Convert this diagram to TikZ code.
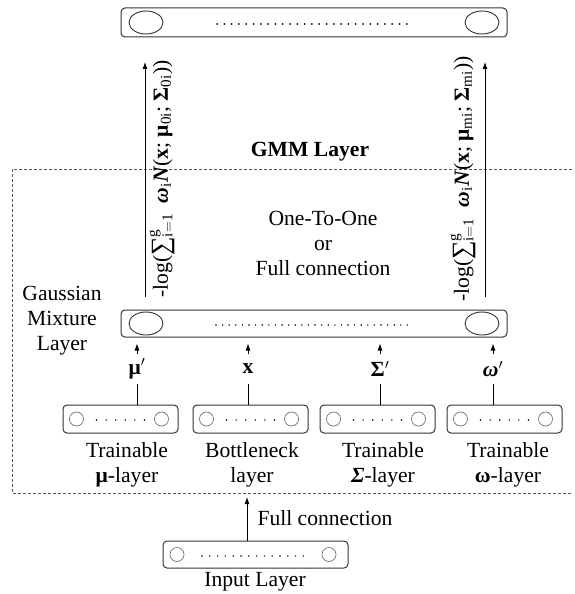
\documentclass[tikz,border=0pt]{standalone}
\usepackage{fontspec}
\setmainfont{Liberation Serif}
\usetikzlibrary{arrows.meta,calc,shapes.geometric}
\newcommand{\gmmform}[1]{-log(\raisebox{-0.05em}{\scalebox{1.2}{∑}}$^{\mathrm{g}}_{\mathrm{i=1}}$\ \ \textbf{\textit{ω}}$_{\mathrm{i}}$\textbf{\textit{N}}(\textbf{x}; \textbf{μ}$_{\mathrm{#1}}$; \textbf{Σ}$_{\mathrm{#1}}$))}
\begin{document}
\begin{tikzpicture}[x=1pt,y=-1pt,
  txt/.style={font=\fontsize{21.6}{25}\selectfont, inner sep=0pt, align=center},
  layerbox/.style={draw=black!80, line width=1pt, rounded corners=4pt, inner sep=0pt},
  bigell/.style={draw=black!80, line width=0.9pt, ellipse, inner sep=0pt, minimum width=34pt, minimum height=23pt},
  smallcirc/.style={draw=black!55, line width=0.7pt, circle, inner sep=0pt, minimum size=14pt},
  dotrow/.style={line width=2pt, line cap=round, dash pattern=on 0pt off 7.3pt},
  sdotrow/.style={line width=1.6pt, line cap=round, dash pattern=on 0pt off 9.6pt},
  arr/.style={line width=0.8pt, -{Latex[length=7pt,width=5pt]}},
  conn/.style={line width=0.8pt},
  lbl/.style={txt, minimum height=30pt}
]
\useasboundingbox (0,0) rectangle (575,594);

% dashed GMM frame
\draw[black!65, line width=0.7pt, dash pattern=on 3pt off 2pt] (572,169) -- (12,169) -- (12,493) -- (572,493);
\node[txt, font=\fontsize{21.6}{25}\selectfont\bfseries] (gmmtitle) at (310,152) {GMM Layer};

% top output layer
\node[layerbox, minimum width=386pt, minimum height=29pt] (top) at (314,22.5) {};
\node[bigell] (topl) at (146,22.5) {};
\node[bigell] (topr) at (482,22.5) {};
\draw[dotrow] (217,24) -- (412,24);

% Gaussian mixture layer
\node[layerbox, minimum width=386pt, minimum height=27pt] (gm) at (314,323.5) {};
\node[bigell] (gml) at (146,323.5) {};
\node[bigell] (gmr) at (482,323.5) {};
\draw[dotrow, line width=1.6pt, dash pattern=on 0pt off 6.6pt] (216,325) -- (412,325);
\node[txt] (gmtext) at (62,321) {Gaussian\\Mixture\\Layer};

% big arrows with formulas
\coordinate (la0) at (145,297);
\coordinate (la1) at (145,62);
\coordinate (ra0) at (485,297);
\coordinate (ra1) at (485,62);
\draw[arr] (la0) -- (la1);
\draw[arr] (ra0) -- (ra1);
\node[txt, rotate=90] (fl) at (162,179) {\gmmform{0i}};
\node[txt, rotate=90] (fr) at (463,179) {\gmmform{mi}};

\node[txt] (oto) at (323,243) {One-To-One\\or\\Full connection};

% four small layers
\foreach \n/\cx in {mub/120.5, xb/250.5, sb/377.5, wb/504.5}{
  \node[layerbox, minimum width=115pt, minimum height=28pt] (\n) at (\cx,419) {};
  \node[smallcirc] (\n l) at ($(\n.west)+(14,0)$) {};
  \node[smallcirc] (\n r) at ($(\n.east)+(-17,0)$) {};
  \draw[sdotrow] ($(\n.center)+(-24,1)$) -- ($(\n.center)+(24,1)$);
}

\node[lbl] (mul) at (137,369) {\textbf{μ}$^{\prime}$};
\node[lbl] (xl)  at (248,369) {\textbf{x}};
\node[lbl] (sl)  at (380,369) {\textbf{Σ}$^{\prime}$};
\node[lbl] (wl)  at (493,369) {\textbf{\textit{ω}}$^{\prime}$};

\foreach \b/\l in {mub/mul, xb/xl, sb/sl, wb/wl}{
  \draw[conn] (\b.north -| \l) -- (\l.south);
  \draw[arr] (\l.north) -- ($(gm.south -| \l)+(0,6)$);
}

\node[txt] (t1) at (127,464.5) {Trainable\\\textbf{μ}-layer};
\node[txt] (t2) at (252,464.5) {Bottleneck\\layer};
\node[txt] (t3) at (383,464.5) {Trainable\\\textbf{\textit{Σ}}-layer};
\node[txt] (t4) at (508,464.5) {Trainable\\\textbf{ω}-layer};

% input layer
\node[layerbox, minimum width=185pt, minimum height=27pt] (inp) at (255.5,554.5) {};
\node[smallcirc] (inpl) at (177,554.5) {};
\node[smallcirc] (inpr) at (329,554.5) {};
\draw[sdotrow, dash pattern=on 0pt off 7.8pt] (202,556) -- (304,556);
\coordinate (fctip) at (247,497);
\draw[arr] (inp.north -| fctip) -- (fctip);
\node[txt] (fc) at (325,518) {Full connection};
\node[txt] (inlabel) at (255,582) {Input Layer};
\end{tikzpicture}
\end{document}
